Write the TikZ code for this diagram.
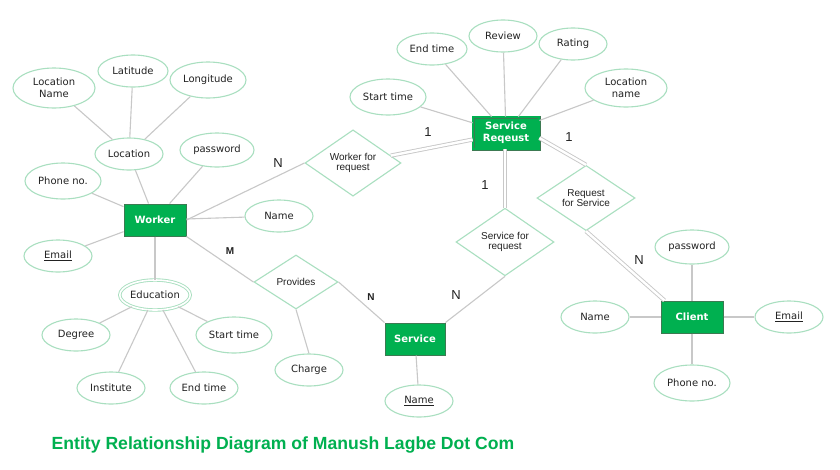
\documentclass[tikz,border=0pt]{standalone}
\usepackage{fontspec}
\setmainfont{DejaVu Sans}
\newfontfamily\arialf{Liberation Sans}
\usetikzlibrary{shapes.geometric}
\definecolor{entgreen}{HTML}{00B050}
\definecolor{entborder}{HTML}{3C7A52}
\definecolor{attrgreen}{HTML}{A9DFC0}
\definecolor{linegray}{HTML}{C8C8C8}
\definecolor{txt}{HTML}{222222}
\begin{document}
\begin{tikzpicture}[x=1pt,y=-1pt,
  attr/.style={ellipse, draw=attrgreen, line width=1.1pt, fill=white, inner sep=0pt,
    minimum width=68pt, minimum height=32pt, text=txt, align=center,
    font=\fontsize{10}{11.5}\selectfont},
  entity/.style={rectangle, draw=entborder, fill=entgreen, line width=1pt, text=white,
    minimum width=62pt, minimum height=32pt, inner sep=0pt, align=center,
    font=\bfseries\fontsize{10}{12}\selectfont},
  rel/.style={diamond, draw=attrgreen, line width=1.1pt, fill=white, inner sep=0pt,
    minimum width=96pt, minimum height=62pt, text=txt, align=center,
    font=\arialf\fontsize{10}{10.5}\selectfont},
  conn/.style={draw=linegray, line width=1.1pt},
  dbl/.style={draw=linegray, line width=0.9pt, double=white, double distance=2.4pt},
  card/.style={text=txt, font=\arialf\fontsize{13}{14}\selectfont},
  cardb/.style={text=txt, font=\arialf\bfseries\fontsize{10}{12}\selectfont}
]
\useasboundingbox (0,0) rectangle (840,469);
\fill[white] (0,0) rectangle (840,469);

% Worker side
\node[attr, minimum width=82pt, minimum height=40pt] (locname) at (54,88) {Location\\Name};
\node[attr, minimum width=70pt] (lat) at (133,71) {Latitude};
\node[attr, minimum width=76pt, minimum height=36pt] (long) at (208,80) {Longitude};
\node[attr] (loc) at (129,154) {Location};
\node[attr, minimum width=74pt, minimum height=34pt] (wpass) at (217,150) {password};
\node[attr, minimum width=76pt, minimum height=36pt] (wphone) at (63,181) {Phone no.};
\node[entity] (worker) at (155,220) {Worker};
\node[attr] (wname) at (279,216) {Name};
\node[attr] (wemail) at (58,256) {\underline{Email}};
\node[attr, minimum width=70pt, minimum height=30pt, double=white, double distance=1.6pt, line width=0.9pt] (edu) at (155,295) {Education};
\node[attr] (deg) at (76,335) {Degree};
\node[attr, minimum width=76pt, minimum height=36pt] (est) at (234,335) {Start time};
\node[attr] (inst) at (111,388) {Institute};
\node[attr] (eet) at (204,388) {End time};
\node[rel, minimum width=84pt, minimum height=54pt] (prov) at (296,282) {Provides};
\node[attr] (charge) at (309,370) {Charge};
\node[rel] (wfr) at (353,163) {Worker for\\request};

% Service
\node[entity, minimum width=60pt] (service) at (415,339) {Service};
\node[attr] (sname) at (419,401) {\underline{Name}};
\node[rel, minimum width=98pt, minimum height=64pt] (sfr) at (505,242) {Service for\\request};

% Service request
\node[entity, minimum width=66pt, draw=entborder, double=entgreen, double distance=1.4pt, line width=0.8pt] (sreq) at (506,133) {Service\\Reqeust};
\node[attr, minimum width=76pt, minimum height=36pt] (rst) at (388,97) {Start time};
\node[attr, minimum width=70pt] (ret) at (432,49) {End time};
\node[attr] (review) at (503,36) {Review};
\node[attr] (rating) at (573,44) {Rating};
\node[attr, minimum width=82pt, minimum height=38pt] (rlocname) at (626,88) {Location\\name};
\node[rel, minimum width=98pt, minimum height=64pt] (rfs) at (586,198) {Request\\for Service};

% Client
\node[entity] (client) at (692,317) {Client};
\node[attr, minimum width=74pt, minimum height=34pt] (cpass) at (692,247) {password};
\node[attr] (cname) at (595,317) {Name};
\node[attr] (cemail) at (789,317) {\underline{Email}};
\node[attr, minimum width=76pt, minimum height=36pt] (cphone) at (692,383) {Phone no.};

% connectors
\draw[conn] (loc) -- (locname);
\draw[conn] (loc) -- (lat);
\draw[conn] (loc) -- (long);
\draw[conn] (worker) -- (loc);
\draw[conn] (worker) -- (wphone);
\draw[conn] (worker) -- (wpass);
\draw[conn] (worker) -- (wname);
\draw[conn] (worker) -- (wemail);
\draw[conn] (worker) -- (edu);
\draw[conn] (edu) -- (deg);
\draw[conn] (edu) -- (est);
\draw[conn] (edu) -- (inst);
\draw[conn] (edu) -- (eet);
\draw[conn] (worker.east) -- (wfr.west);
\draw[conn] (worker.south east) -- (prov.west);
\draw[conn] (prov.south) -- (charge.north);
\draw[conn] (prov.east) -- (service.north west);
\draw[conn] (service) -- (sname);
\draw[conn] (sfr.south) -- (service.north east);
\draw[dbl] (wfr) -- (sreq);
\draw[dbl] ([xshift=-1pt]sreq.south) -- (sfr.north);
\draw[dbl] ([yshift=-5pt]sreq.east) -- (rfs.north);
\draw[dbl] (rfs.south) -- ([xshift=4pt]client.north west);
\draw[conn] (sreq) -- (rst);
\draw[conn] (sreq) -- (ret);
\draw[conn] (sreq) -- (review);
\draw[conn] (sreq) -- (rating);
\draw[conn] (sreq) -- (rlocname);
\draw[conn] (client) -- (cpass);
\draw[conn] (client) -- (cname);
\draw[conn] (client) -- (cemail);
\draw[conn] (client) -- (cphone);

% cardinalities
\node[card] (c1) at (278,163) {N};
\node[card] (c2) at (428,132) {1};
\node[card] (c3) at (569,137) {1};
\node[card] (c4) at (485,185) {1};
\node[cardb] (c5) at (230,251) {M};
\node[cardb] (c6) at (371,297) {N};
\node[card] (c7) at (456,295) {N};
\node[card] (c8) at (639,260) {N};

% title
\node[text=entgreen, font=\arialf\bfseries\fontsize{17.6}{20}\selectfont] (title) at (283,445) {Entity Relationship Diagram of Manush Lagbe Dot Com};
\end{tikzpicture}
\end{document}
